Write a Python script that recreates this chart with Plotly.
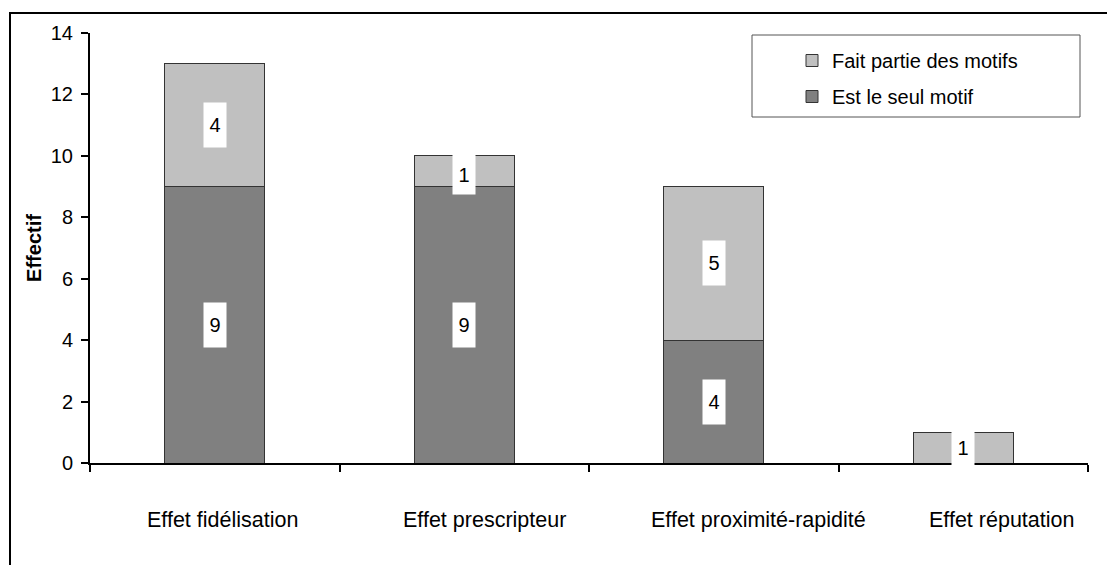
import plotly.graph_objects as go

categories = ["Effet fidélisation", "Effet prescripteur", "Effet proximité-rapidité", "Effet réputation"]
seul_motif = [9, 9, 4, 0]
partie_motifs = [4, 1, 5, 1]
y_ticks = [0, 2, 4, 6, 8, 10, 12, 14]

# styling: horizontal nudges of category labels (px), as in the original layout
label_nudge = [8, 20, 45, 38]

FONT = "Liberation Sans, Arial, sans-serif"
FS = 20

fig = go.Figure()
fig.add_trace(go.Bar(
    x=categories, y=seul_motif, name="Est le seul motif",
    marker=dict(color="#808080", line=dict(color="#333333", width=1)),
    legendgroup="a", legendrank=2,
))
fig.add_trace(go.Bar(
    x=categories, y=partie_motifs, name="Fait partie des motifs",
    marker=dict(color="#c0c0c0", line=dict(color="#333333", width=1)),
    legendgroup="b", legendrank=1,
))

# value labels with white boxes
for cat, s, p in zip(categories, seul_motif, partie_motifs):
    if s > 0:
        fig.add_annotation(x=cat, y=s / 2, text=str(s), showarrow=False,
                           bgcolor="white", width=20, height=42,
                           font=dict(family=FONT, size=FS, color="black"))
    if p > 0:
        small_on_top = (p < 2 and s > 0)
        fig.add_annotation(x=cat, y=s + p / 2, text=str(p), showarrow=False,
                           bgcolor="white", width=20,
                           height=37 if small_on_top else 42,
                           yshift=-3 if small_on_top else 0,
                           font=dict(family=FONT, size=FS, color="black"))

# category labels
for cat, dx in zip(categories, label_nudge):
    fig.add_annotation(x=cat, xref="x", y=0, yref="paper", text=cat, showarrow=False,
                       xanchor="center", yanchor="middle", xshift=dx, yshift=-57,
                       font=dict(family=FONT, size=21.5, color="black"))

W, H = 1107, 565
ml, mr, mt, mb = 90, 19, 33, 102
pw, ph = W - ml - mr, H - mt - mb

def px_x(x):
    return (x - ml) / pw

def px_y(y):
    return (H - mb - y) / ph

# outer frame (only top and left visible)
fig.add_shape(type="rect", xref="paper", yref="paper",
              x0=px_x(10), x1=px_x(1120), y0=px_y(580), y1=px_y(13),
              line=dict(color="black", width=2), fillcolor="rgba(0,0,0,0)", layer="above")
# legend box
fig.add_shape(type="rect", xref="paper", yref="paper",
              x0=px_x(752), x1=px_x(1080), y0=px_y(117), y1=px_y(35),
              line=dict(color="#555555", width=1), fillcolor="rgba(0,0,0,0)")

fig.update_layout(
    width=W, height=H,
    margin=dict(l=ml, r=mr, t=mt, b=mb),
    paper_bgcolor="white", plot_bgcolor="white",
    barmode="stack", bargap=0.6,
    font=dict(family=FONT, size=FS, color="black"),
    showlegend=True,
    legend=dict(
        x=px_x(792), y=px_y(41), xanchor="left", yanchor="top",
        traceorder="grouped", tracegroupgap=7,
        bgcolor="rgba(0,0,0,0)", borderwidth=0,
        font=dict(family=FONT, size=FS, color="black"),
    ),
)
fig.update_xaxes(
    showline=True, linecolor="black", linewidth=2,
    ticks="outside", tickson="boundaries", ticklen=7, tickwidth=2, tickcolor="black",
    showgrid=False, showticklabels=False,
)
fig.update_yaxes(
    range=[0, 14], tickvals=y_ticks, showline=True, linecolor="black", linewidth=2,
    ticks="outside", ticklen=7, tickwidth=2, tickcolor="black",
    showgrid=False, zeroline=False, tickfont=dict(size=FS), ticklabelstandoff=4,
    title=dict(text="<b>Effectif</b>", font=dict(size=FS), standoff=4),
)

fig.write_html("out.html")
